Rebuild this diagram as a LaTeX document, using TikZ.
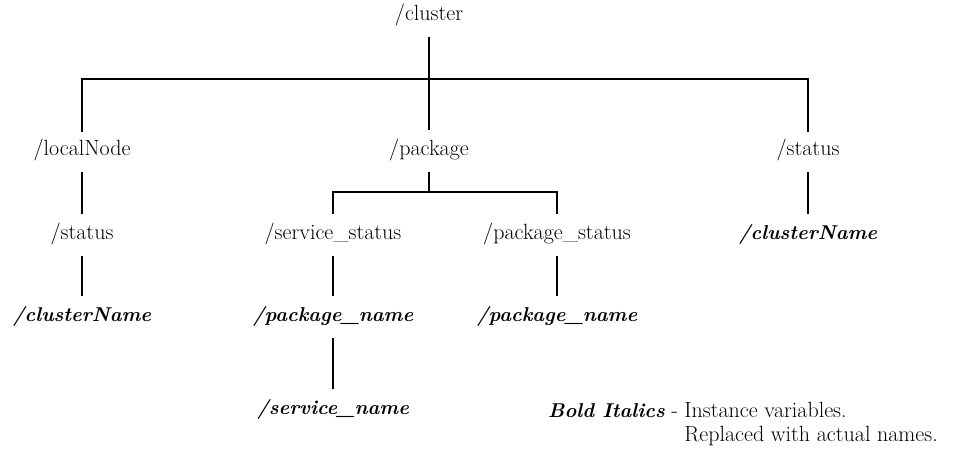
\documentclass[tikz,border=0pt]{standalone}
\usepackage{fontspec}
\usetikzlibrary{calc}
\begin{document}
\begin{tikzpicture}[x=1pt,y=-1pt,
  every node/.style={font=\fontsize{22}{26}\selectfont},
  dir/.style={inner xsep=2pt,inner ysep=11pt,text height=14pt,text depth=5pt},
  var/.style={dir,font=\fontsize{20}{24}\selectfont\bfseries\itshape},
  link/.style={line width=1.6pt},
  trunk/.style={line width=2.6pt,line cap=rect,line join=miter},
  branch/.style={line width=2pt,line join=miter}]
\useasboundingbox (0,0) rectangle (979,450);

% top level
\node[dir] (cl) at (429,16) {/cluster};
\node[dir] (ln) at (82,151) {/localNode};
\node[dir] (pk) at (429,151) {/package};
\node[dir] (rs) at (808,151) {/status};

% second level
\node[dir] (ls) at (82,235) {/status};
\node[dir] (ss) at (333,235) {/service\_status};
\node[dir] (ps) at (557,235) {/package\_status};
\node[var] (rc) at (808,235) {/clusterName};

% third level
\node[var] (lc) at (82,317) {/clusterName};
\node[var] (sp) at (333,317) {/package\_name};
\node[var] (pp) at (557,317) {/package\_name};

% fourth level
\node[var] (sn) at (333,410) {/service\_name};

% branch from /cluster
\coordinate (bar) at (0,79);
\draw[link] (cl.south) -- (pk.north);
\draw[trunk] (ln.north) -- (ln.north |- bar) -- (rs.north |- bar) -- (rs.north);

% branch from /package
\coordinate (sub) at (0,192);
\draw[link] (pk.south) -- (pk.south |- sub);
\draw[branch] (ss.north) -- (ss.north |- sub) -- (ps.north |- sub) -- (ps.north);

% single links
\draw[link] (ln.south) -- (ls.north);
\draw[link] (ls.south) -- (lc.north);
\draw[link] (rs.south) -- (rc.north);
\draw[link] (ss.south) -- (sp.north);
\draw[branch] (ps.south) -- (pp.north);
\draw[link] (sp.south) -- (sn.north);

% legend: key, then a hanging-indented explanation
\node[anchor=base west,inner sep=0pt] (lgk) at (548,417) {\fontsize{20}{24}\selectfont\bfseries\itshape Bold Italics\fontsize{22}{26}\selectfont\mdseries\upshape{} -};
\node[anchor=base west,inner sep=0pt] (lgv) at ($(lgk.base east)+(6,0)$) {Instance variables.};
\node[anchor=base west,inner sep=0pt] (lgw) at ($(lgv.base west)+(0,24)$) {Replaced with actual names.};
\end{tikzpicture}
\end{document}
